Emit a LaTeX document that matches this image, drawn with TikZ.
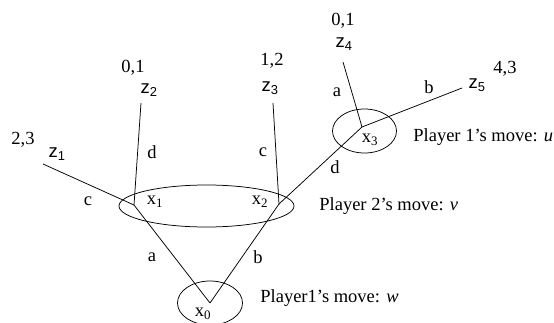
\documentclass[tikz,border=0pt]{standalone}
\usepackage{fontspec}
\setmainfont{Liberation Serif}
\newfontfamily\zfont{Liberation Sans}
\usetikzlibrary{shapes.geometric}
\begin{document}
\begin{tikzpicture}[x=1pt,y=-1pt,line width=0.75pt,
  lbl/.style={font=\fontsize{18.5}{22}\selectfont,inner sep=0pt},
  info/.style={draw,ellipse,inner sep=0pt}]
\useasboundingbox (0,0) rectangle (554,322);
% decision points
\coordinate (x0) at (210,303);
\coordinate (x1) at (134,205);
\coordinate (x2) at (279,204);
\coordinate (x3) at (362,127);
\coordinate (z1) at (43,164);
\coordinate (z2) at (141,103);
\coordinate (z3) at (273,103);
\coordinate (z4) at (343,62);
\coordinate (z5) at (462,88);
% information sets
\node[info,minimum width=65pt,minimum height=44pt] (e0) at (210,303) {};
\node[info,minimum width=175pt,minimum height=42pt] (e12) at (206.5,206) {};
\node[info,minimum width=64pt,minimum height=44pt] (e3) at (364.5,131) {};
% edges
\draw (x0) -- (x1);
\draw (x0) -- (x2);
\draw (x1) -- (z1);
\draw (x1) -- (z2);
\draw (x2) -- (z3);
\draw (x2) -- (x3);
\draw (x3) -- (z4);
\draw (x3) -- (z5);
% edge labels
\node[lbl] (la) at (152,257) {a};
\node[lbl] (lb) at (258,257) {b};
\node[lbl] (lc1) at (88,201) {c};
\node[lbl] (ld1) at (152,152) {d};
\node[lbl] (lc2) at (263,152) {c};
\node[lbl] (ld2) at (335,167) {d};
\node[lbl] (la3) at (337,92) {a};
\node[lbl] (lb3) at (429,87) {b};
% node labels
\node[lbl] (n0) at (203,314) {x\textsubscript{0}};
\node[lbl] (n1) at (155,202) {x\textsubscript{1}};
\node[lbl] (n2) at (260,202) {x\textsubscript{2}};
\node[lbl] (n3) at (370,140) {x\textsubscript{3}};
\node[lbl] (t1) at (57,154) {\zfont z\textsubscript{1}};
\node[lbl] (t2) at (149,90) {\zfont z\textsubscript{2}};
\node[lbl] (t3) at (270,88) {\zfont z\textsubscript{3}};
\node[lbl] (t4) at (344,44) {\zfont z\textsubscript{4}};
\node[lbl] (t5) at (477,85) {\zfont z\textsubscript{5}};
% payoffs
\node[lbl] (p1) at (23,140) {2,3};
\node[lbl] (p2) at (133,68) {0,1};
\node[lbl] (p3) at (272,61) {1,2};
\node[lbl] (p4) at (343,21) {0,1};
\node[lbl] (p5) at (505,69) {4,3};
% player annotations
\node[lbl,anchor=west] (m1) at (413,137) {Player 1’s move: \textit{u}};
\node[lbl,anchor=west] (m2) at (319,206) {Player 2’s move: \textit{v}};
\node[lbl,anchor=west] (m0) at (260,298) {Player1’s move: \textit{w}};
\end{tikzpicture}
\end{document}
